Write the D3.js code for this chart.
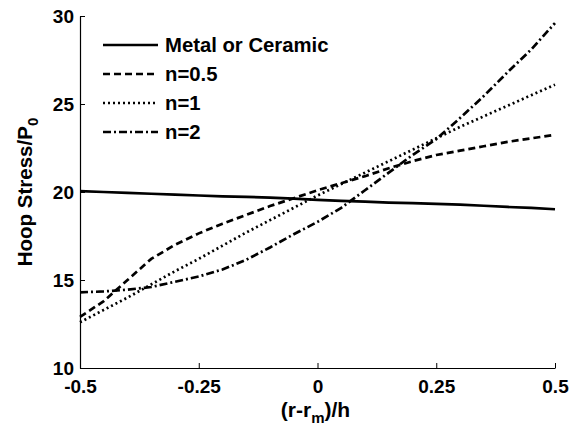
<!DOCTYPE html>
<html>
<head>
<meta charset="utf-8">
<script src="https://cdn.jsdelivr.net/npm/d3@7"></script>
<style>
  body { margin: 0; background: #fff; }
  text { font-family: "Liberation Sans", Arial, sans-serif; font-weight: bold; fill: #000; }
</style>
</head>
<body>
<div class="chart"></div>
<script>
const xs = [-0.5, -0.45, -0.4, -0.35, -0.3, -0.25, -0.2, -0.15, -0.1, -0.05, 0,
    0.05, 0.1, 0.15, 0.2, 0.25, 0.3, 0.35, 0.4, 0.45, 0.5]
const metal = [20.05, 20.0, 19.95, 19.9, 19.85, 19.8, 19.75, 19.72, 19.68, 19.62, 19.55,
    19.5, 19.45, 19.4, 19.37, 19.33, 19.28, 19.22, 19.15, 19.1, 19.02]
const nHalf = [12.9, 13.8, 15.0, 16.2, 17.0, 17.65, 18.2, 18.7, 19.2, 19.65, 20.1,
    20.5, 20.9, 21.35, 21.75, 22.1, 22.35, 22.6, 22.85, 23.05, 23.25]
const nOne = [12.6, 13.3, 14.0, 14.75, 15.5, 16.2, 16.95, 17.7, 18.4, 19.1, 19.8,
    20.45, 21.1, 21.75, 22.4, 23.05, 23.7, 24.3, 24.9, 25.5, 26.1]
const nTwo = [14.3, 14.35, 14.45, 14.6, 14.9, 15.2, 15.6, 16.15, 16.85, 17.6, 18.3,
    19.1, 20.1, 21.1, 22.1, 23.0, 24.2, 25.45, 26.8, 28.1, 29.6]
const seriesNames = ["Metal or Ceramic", "n=0.5", "n=1", "n=2"]
const xTicks = [-0.5, -0.25, 0, 0.25, 0.5]
const xTickLabels = ["-0.5", "-0.25", "0", "0.25", "0.5"]
const yTicks = [10, 15, 20, 25, 30]

const dashes = ["none", "7 4", "2 3", "8 3 2 3"]
const series = [metal, nHalf, nOne, nTwo].map(function (vals, i) {
    return { name: seriesNames[i], dash: dashes[i], points: xs.map(function (x, j) { return [x, vals[j]] }) }
})

const margin = { top: 16, right: 23, bottom: 62, left: 80 }
const W = 578, H = 430
const width = W - margin.left - margin.right
const height = H - margin.top - margin.bottom

const svg = d3.select(".chart").append("svg")
    .attr("width", W)
    .attr("height", H)

const g = svg.append("g")
    .attr("transform", `translate(${margin.left},${margin.top})`)

const x = d3.scaleLinear().domain([-0.5, 0.5]).range([0, width])
const y = d3.scaleLinear().domain([10, 30]).range([height, 0])

// axes, ticks pointing inward
const xAxis = d3.axisBottom(x).tickValues(xTicks).tickSizeInner(-5).tickSizeOuter(0)
    .tickPadding(12)
    .tickFormat(function (d, i) { return xTickLabels[i] })
const yAxis = d3.axisLeft(y).tickValues(yTicks).tickSizeInner(-5).tickSizeOuter(0)
    .tickPadding(6)

g.append("g")
    .attr("transform", `translate(0,${height})`)
    .call(xAxis)
    .call(a => a.select(".domain").attr("stroke", "#000").attr("stroke-width", 1.2))
    .selectAll("text")
    .style("font-size", "19px")
    .style("font-family", "'Liberation Sans', Arial, sans-serif")
    .style("font-weight", "bold")

g.append("g")
    .call(yAxis)
    .call(a => a.select(".domain").attr("stroke", "#000").attr("stroke-width", 1.2))
    .selectAll("text")
    .attr("dy", "0.36em")
    .style("font-size", "19px")
    .style("font-family", "'Liberation Sans', Arial, sans-serif")
    .style("font-weight", "bold")

const line = d3.line()
    .x(function (d) { return x(d[0]) })
    .y(function (d) { return y(d[1]) })

g.selectAll(".curve")
    .data(series)
    .enter().append("path")
    .attr("class", "curve")
    .attr("d", function (d) { return line(d.points) })
    .attr("fill", "none")
    .attr("stroke", "#000")
    .attr("stroke-width", 2.7)
    .attr("stroke-dasharray", function (d) { return d.dash })

// legend
const legend = g.selectAll(".legend")
    .data(series)
    .enter().append("g")
    .attr("class", "legend")
    .attr("transform", function (d, i) { return `translate(23,${29 + i * 29})` })

legend.append("line")
    .attr("x1", 0).attr("x2", 55)
    .attr("stroke", "#000")
    .attr("stroke-width", 2.7)
    .attr("stroke-dasharray", function (d) { return d.dash })

legend.append("text")
    .attr("x", 62)
    .attr("dy", "0.36em")
    .style("font-size", "20.3px")
    .text(function (d) { return d.name })

// axis titles
const xt = svg.append("text")
    .attr("x", margin.left + width / 2 - 2)
    .attr("y", 417)
    .attr("text-anchor", "middle")
    .style("font-size", "21px")
xt.append("tspan").text("(r-r")
xt.append("tspan").attr("dy", 6).style("font-size", "15px").text("m")
xt.append("tspan").attr("dy", -6).text(")/h")

const yt = svg.append("text")
    .attr("transform", `translate(32,${margin.top + height / 2}) rotate(-90)`)
    .attr("text-anchor", "middle")
    .style("font-size", "20.5px")
yt.append("tspan").text("Hoop Stress/P")
yt.append("tspan").attr("dy", 6).style("font-size", "15px").text("0")
</script>
</body>
</html>
